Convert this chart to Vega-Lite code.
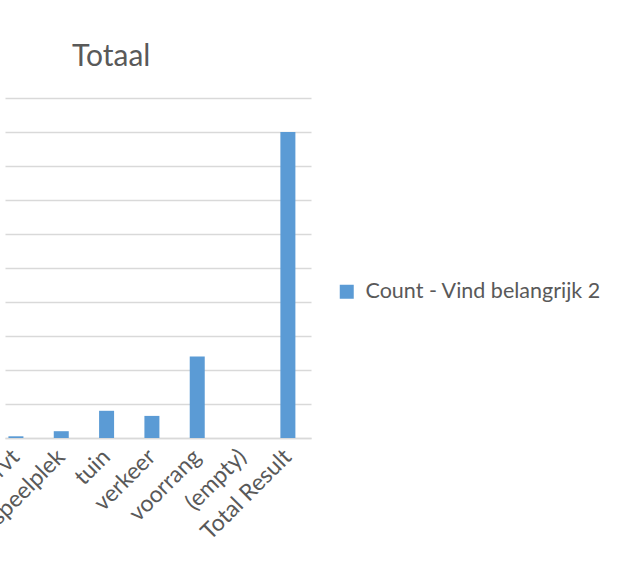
{
  "$schema": "https://vega.github.io/schema/vega-lite/v6.json",
  "width": 306,
  "height": 340,
  "autosize": {"type": "none"},
  "padding": {"left": 5, "top": 98, "right": 308, "bottom": 140},
  "background": "white",
  "title": {
    "text": "Totaal",
    "font": "Lato",
    "fontSize": 30,
    "fontWeight": "normal",
    "color": "#595959",
    "anchor": "start",
    "frame": "group",
    "dx": 67,
    "baseline": "alphabetic",
    "offset": 2
  },
  "data": {
    "values": [
      {"categorie": "zelfstandig rvt", "aantal": 1},
      {"categorie": "speelplek", "aantal": 4},
      {"categorie": "tuin", "aantal": 16},
      {"categorie": "verkeer", "aantal": 13},
      {"categorie": "voorrang", "aantal": 48},
      {"categorie": "(empty)", "aantal": 0},
      {"categorie": "Total Result", "aantal": 180}
    ]
  },
  "mark": {"type": "bar", "color": "#5b9bd5"},
  "encoding": {
    "x": {
      "field": "categorie",
      "type": "nominal",
      "sort": null,
      "scale": {"paddingInner": 0.669, "paddingOuter": 0.21, "align": 0.18},
      "axis": {
        "title": null,
        "ticks": false,
        "domainColor": "#d9d9d9",
        "domainWidth": 1.5,
        "labelAngle": -45,
        "labelAlign": "right",
        "labelBaseline": "middle",
        "labelFont": "Lato",
        "labelFontSize": 23,
        "labelColor": "#595959",
        "labelPadding": 15
      }
    },
    "y": {
      "field": "aantal",
      "type": "quantitative",
      "scale": {"domain": [0, 200], "nice": false},
      "axis": {
        "title": null,
        "labels": false,
        "ticks": false,
        "domain": false,
        "grid": true,
        "gridColor": "#d9d9d9",
        "gridWidth": 1.5,
        "values": [0, 20, 40, 60, 80, 100, 120, 140, 160, 180, 200]
      }
    },
    "color": {
      "datum": "Count - Vind belangrijk 2",
      "scale": {"range": ["#5b9bd5"]},
      "legend": {
        "title": null,
        "orient": "none",
        "legendX": 331,
        "legendY": 183,
        "padding": 0,
        "symbolType": "square",
        "symbolSize": 196,
        "symbolStrokeWidth": 0,
        "symbolOpacity": 1,
        "labelFont": "Lato",
        "labelFontSize": 21.5,
        "labelColor": "#595959",
        "labelOffset": 8,
        "labelLimit": 0
      }
    }
  },
  "config": {"view": {"stroke": null}}
}
